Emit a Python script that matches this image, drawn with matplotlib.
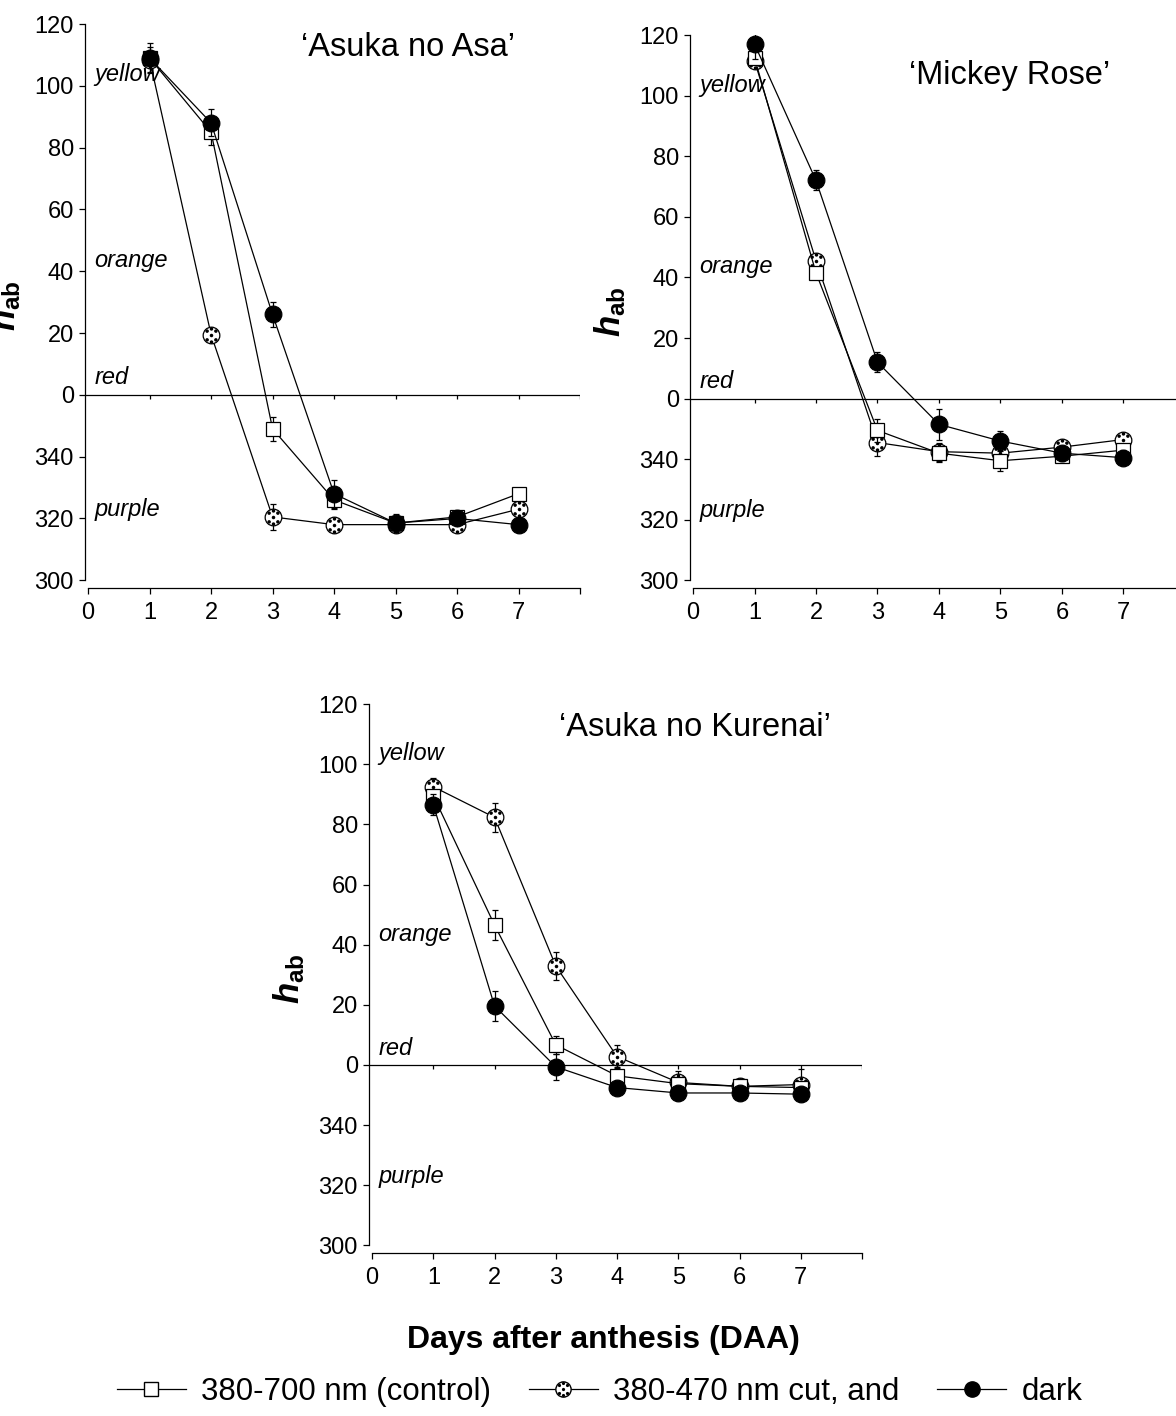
import matplotlib

matplotlib.use("Agg")
import matplotlib.pyplot as plt
from matplotlib.path import Path
import numpy as np

plt.rcParams["font.family"] = ["Liberation Sans", "DejaVu Sans"]
plt.rcParams["mathtext.fontset"] = "custom"
plt.rcParams["mathtext.it"] = "Liberation Sans:bold:italic"
plt.rcParams["mathtext.rm"] = "Liberation Sans:bold"

DAYS = [1, 2, 3, 4, 5, 6, 7]
XTICKS = [0, 1, 2, 3, 4, 5, 6, 7, 8]
XTICK_LABELS = ["0", "1", "2", "3", "4", "5", "6", "7", ""]
YTICKS = [120, 100, 80, 60, 40, 20, 0, -20, -40, -60]
YTICK_LABELS = ["120", "100", "80", "60", "40", "20", "0", "340", "320", "300"]

# hue angle, values above 180 deg shown as (h - 360)
ASA_CTRL = [109, 85, -11, -34, -41.5, -39.5, -32]
ASA_CTRL_ERR = [2, 4, 3.8, 3, 1.5, 1.5, 1.5]
ASA_CUT = [108.5, 19.5, -39.5, -42, -42, -42, -37]
ASA_CUT_ERR = [4, 1, 4.2, 1.5, 1, 1, 1.5]
ASA_DARK = [109, 88, 26, -32, -41.5, -40, -42]
ASA_DARK_ERR = [5, 4.4, 4.2, 4.6, 2.8, 1.5, 1]

MR_CTRL = [112.5, 41.5, -10.5, -18, -20.5, -19, -17]
MR_CTRL_ERR = [2, 1.5, 3.9, 3, 3.5, 2, 1.5]
MR_CUT = [111.5, 45.5, -14.5, -17.5, -18, -16, -13.5]
MR_CUT_ERR = [2, 1.5, 4.5, 3, 2, 2.5, 1.5]
MR_DARK = [117, 72, 12, -8.5, -14, -18, -19.5]
MR_DARK_ERR = [5, 3.3, 3.3, 5, 3.4, 2.5, 2.5]

AK_CTRL = [89.5, 46.5, 6.7, -3.6, -6.2, -7.1, -7.5]
AK_CTRL_ERR = [2, 4.9, 3, 3, 1.5, 1, 1]
AK_CUT = [92.5, 82.3, 32.9, 2.8, -5.8, -7.1, -6.5]
AK_CUT_ERR = [3, 4.8, 4.5, 3.9, 3.9, 1, 5.2]
AK_DARK = [86.5, 19.6, -0.6, -7.5, -9.3, -9.3, -9.7]
AK_DARK_ERR = [3.5, 4.9, 4.3, 1, 1, 1, 1]

COLOR_NAMES = ["yellow", "orange", "red", "purple"]
COLOR_Y = [103.5, 43.5, 5.5, -37]

LEGEND_LABELS = ["380-700 nm (control)", "380-470 nm cut, and", "dark"]


def dots_marker():
    # speckle pattern for the 380-470 nm cut symbol
    pts = [(-0.2, 0.2), (0.2, 0.2), (-0.2, -0.2), (0.2, -0.2), (0, 0),
           (0, 0.3), (0, -0.3)]
    circ = Path.circle((0, 0), 0.08)
    paths = [Path(circ.vertices + np.array(p), circ.codes) for p in pts]
    return Path.make_compound_path(*paths)


DOTS = dots_marker()
MS = 12


def draw_panel(ax, title, title_xy, ctrl, ctrl_err, cut, cut_err, dark, dark_err):
    kw = dict(color="black", lw=0.9, elinewidth=0.9, capsize=2.5, capthick=0.9,
              markersize=MS, markeredgecolor="black", markeredgewidth=0.9)
    ax.errorbar(DAYS, cut, yerr=cut_err, marker="o", markerfacecolor="white",
                zorder=3, **kw)
    ax.plot(DAYS, cut, linestyle="none", marker=DOTS, markersize=MS,
            color="black", markeredgewidth=0, zorder=3.1)
    ax.errorbar(DAYS, ctrl, yerr=ctrl_err, marker="s", markerfacecolor="white",
                zorder=4, **dict(kw, markersize=MS - 1.5))
    ax.errorbar(DAYS, dark, yerr=dark_err, marker="o", markerfacecolor="black",
                zorder=5, **kw)

    ax.set_xlim(-0.05, 8)
    ax.set_ylim(-62.5, 120)
    ax.set_xticks(XTICKS)
    ax.set_xticklabels(XTICK_LABELS)
    ax.set_yticks(YTICKS)
    ax.set_yticklabels(YTICK_LABELS)
    ax.tick_params(axis="both", direction="out", length=4, width=0.9,
                   labelsize=17, pad=4)
    ax.tick_params(axis="x", pad=6)
    for s in ("top", "right"):
        ax.spines[s].set_visible(False)
    ax.spines["left"].set_bounds(-60, 120)
    ax.spines["bottom"].set_bounds(0, 8)
    ax.spines["left"].set_linewidth(0.9)
    ax.spines["bottom"].set_linewidth(0.9)

    # hue zero line with its own little ticks
    ax.axhline(0, xmin=0, xmax=1, color="black", lw=0.9, zorder=2)
    ax.vlines(XTICKS[1:], -1.3, 0, color="black", lw=0.9, zorder=2)

    for name, yv in zip(COLOR_NAMES, COLOR_Y):
        ax.text(0.1, yv, name, fontsize=17, style="italic", ha="left",
                va="center")
    ax.text(title_xy[0], title_xy[1], title, fontsize=23.5, ha="center",
            va="center")
    ax.set_ylabel(r"$h_{\mathrm{ab}}$", fontsize=25, labelpad=8)


fig = plt.figure(figsize=(11.76, 14.16), dpi=100)
ax1 = fig.add_axes([0.0723, 0.58475, 0.4209, 0.3983])
ax2 = fig.add_axes([0.5867, 0.58475, 0.4209, 0.3905])
ax3 = fig.add_axes([0.3138, 0.11511, 0.4192, 0.3877])

draw_panel(ax1, "\u2018Asuka no Asa\u2019", (5.2, 112.5),
           ASA_CTRL, ASA_CTRL_ERR, ASA_CUT, ASA_CUT_ERR, ASA_DARK, ASA_DARK_ERR)
draw_panel(ax2, "\u2018Mickey Rose\u2019", (5.15, 106.8),
           MR_CTRL, MR_CTRL_ERR, MR_CUT, MR_CUT_ERR, MR_DARK, MR_DARK_ERR)
draw_panel(ax3, "\u2018Asuka no Kurenai\u2019", (5.28, 112.3),
           AK_CTRL, AK_CTRL_ERR, AK_CUT, AK_CUT_ERR, AK_DARK, AK_DARK_ERR)

fig.text(0.5128, 0.0537, "Days after anthesis (DAA)", fontsize=23,
         fontweight="bold", ha="center", va="center")

h_ctrl = plt.Line2D([], [], color="black", lw=0.9, marker="s", markersize=10,
                    markerfacecolor="white", markeredgecolor="black")
h_cut = plt.Line2D([], [], color="black", lw=0.9, marker="o", markersize=11,
                   markerfacecolor="white", markeredgecolor="black")
h_cut_dots = plt.Line2D([], [], linestyle="none", marker=DOTS, markersize=11,
                        color="black", markeredgewidth=0)
h_dark = plt.Line2D([], [], color="black", lw=0.9, marker="o", markersize=11,
                    markerfacecolor="black", markeredgecolor="black")
fig.legend([h_ctrl, (h_cut, h_cut_dots), h_dark], LEGEND_LABELS,
           loc="center", bbox_to_anchor=(0.51, 0.017), ncol=3, frameon=False,
           fontsize=22.5, handlelength=2.2, handletextpad=0.5,
           columnspacing=1.2)

fig.savefig("out.png", dpi=100)
